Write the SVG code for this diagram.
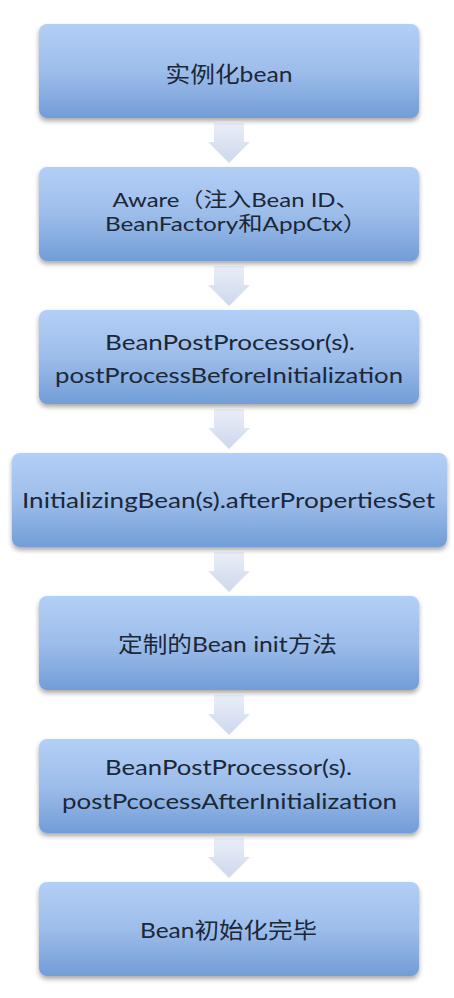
<svg xmlns="http://www.w3.org/2000/svg" width="454" height="998" viewBox="0 0 454 998">
<defs>
<linearGradient id="boxg" x1="0" y1="0" x2="0" y2="1">
<stop offset="0" stop-color="#b3cff6"/>
<stop offset="0.5" stop-color="#9dbdea"/>
<stop offset="1" stop-color="#729dd7"/>
</linearGradient>
<linearGradient id="arrg" x1="0" y1="0" x2="0" y2="1">
<stop offset="0" stop-color="#e9eef8"/>
<stop offset="1" stop-color="#cdd8ec"/>
</linearGradient>
<filter id="sh" x="-10%" y="-10%" width="120%" height="130%">
<feGaussianBlur in="SourceAlpha" stdDeviation="2.5"/>
<feOffset dy="3" result="b"/>
<feComponentTransfer><feFuncA type="linear" slope="0.35"/></feComponentTransfer>
<feMerge><feMergeNode/><feMergeNode in="SourceGraphic"/></feMerge>
</filter>
<path id="arr" d="M -15 0 H 15 V 19 H 21 L 0 40 L -21 19 H -15 Z"/>
</defs>
<style>
.box{fill:url(#boxg);filter:url(#sh);}
.t{font-family:Lato,"Noto Sans CJK SC",sans-serif;font-size:22px;fill:#1c2738;text-anchor:middle;}
.s{font-size:20px;}
.a{fill:url(#arrg);}
</style>
<rect width="454" height="998" fill="#ffffff"/>
<g id="connectors">
<use href="#arr" class="a" x="229" y="123"/>
<use href="#arr" class="a" x="229" y="266"/>
<use href="#arr" class="a" x="229" y="409"/>
<use href="#arr" class="a" x="229" y="552"/>
<use href="#arr" class="a" x="229" y="695"/>
<use href="#arr" class="a" x="229" y="838"/>
</g>
<g id="n1">
<rect class="box" x="39" y="24" width="380" height="94" rx="8"/>
<text class="t" x="229" y="82" textLength="127" lengthAdjust="spacingAndGlyphs">实例化bean</text>
</g>
<g id="n2">
<rect class="box" x="39" y="167" width="380" height="94" rx="8"/>
<text class="t s" x="236" y="207" textLength="247" lengthAdjust="spacingAndGlyphs">Aware（注入Bean ID、</text>
<text class="t s" x="236" y="231" textLength="262" lengthAdjust="spacingAndGlyphs">BeanFactory和AppCtx）</text>
</g>
<g id="n3">
<rect class="box" x="39" y="310" width="380" height="94" rx="8"/>
<text class="t" x="230" y="350" textLength="250" lengthAdjust="spacingAndGlyphs">BeanPostProcessor(s).</text>
<text class="t" x="229" y="383" textLength="348" lengthAdjust="spacingAndGlyphs">postProcessBeforeInitialization</text>
</g>
<g id="n4">
<rect class="box" x="12" y="453" width="435" height="94" rx="8"/>
<text class="t" x="228.5" y="508" textLength="413" lengthAdjust="spacingAndGlyphs">InitializingBean(s).afterPropertiesSet</text>
</g>
<g id="n5">
<rect class="box" x="39" y="596" width="380" height="94" rx="8"/>
<text class="t" x="227.5" y="652" textLength="219" lengthAdjust="spacingAndGlyphs">定制的Bean init方法</text>
</g>
<g id="n6">
<rect class="box" x="39" y="739" width="380" height="94" rx="8"/>
<text class="t" x="228.5" y="775" textLength="247" lengthAdjust="spacingAndGlyphs">BeanPostProcessor(s).</text>
<text class="t" x="229.5" y="809" textLength="335" lengthAdjust="spacingAndGlyphs">postPcocessAfterInitialization</text>
</g>
<g id="n7">
<rect class="box" x="39" y="882" width="380" height="94" rx="8"/>
<text class="t" x="228.5" y="938" textLength="177" lengthAdjust="spacingAndGlyphs">Bean初始化完毕</text>
</g>
</svg>
